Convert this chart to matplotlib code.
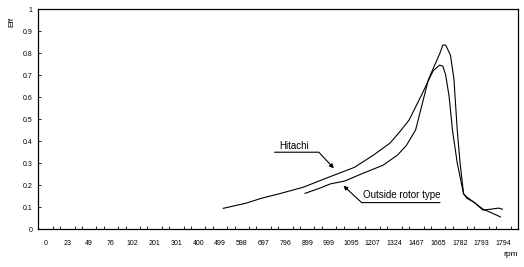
import matplotlib
matplotlib.use("Agg")
import matplotlib.pyplot as plt
import numpy as np

plt.rcParams['font.family'] = ['Liberation Sans', 'DejaVu Sans']

# category axis labels (rpm)
rpm_labels = ["0", "23", "49", "76", "102", "201", "301", "400", "499", "598", "697",
              "796", "899", "999", "1095", "1207", "1324", "1467", "1665", "1782", "1793", "1794"]
y_ticks = [0, 0.1, 0.2, 0.3, 0.4, 0.5, 0.6, 0.7, 0.8, 0.9, 1]
y_tick_labels = ["0", "0.1", "0.2", "0.3", "0.4", "0.5", "0.6", "0.7", "0.8", "0.9", "1"]

# Hitachi efficiency (x = position on category axis)
hitachi_x = [8.15, 9.18, 9.91, 10.79, 11.82, 13.0, 14.16, 15.04, 15.79, 16.23, 16.67, 17.25,
             17.63, 17.78, 18.07, 18.22, 18.35, 18.51, 18.66, 18.88, 19.17, 19.32, 19.67,
             20.06, 20.42, 20.78, 20.95]
hitachi_eff = [0.094, 0.117, 0.14, 0.162, 0.19, 0.236, 0.28, 0.336, 0.39, 0.44, 0.495, 0.61,
               0.69, 0.72, 0.745, 0.74, 0.70, 0.60, 0.45, 0.30, 0.16, 0.14, 0.12,
               0.086, 0.09, 0.095, 0.09]

# Outside rotor type efficiency
outside_x = [11.90, 12.56, 13.06, 13.72, 14.60, 15.48, 16.14, 16.55, 16.97, 17.56, 17.78,
             18.09, 18.22, 18.35, 18.57, 18.73, 18.88, 19.01, 19.17, 19.32, 19.67, 20.06,
             20.42, 20.86]
outside_eff = [0.162, 0.185, 0.205, 0.218, 0.255, 0.29, 0.336, 0.38, 0.45, 0.68, 0.73,
               0.80, 0.836, 0.836, 0.79, 0.68, 0.45, 0.30, 0.16, 0.145, 0.12, 0.09,
               0.075, 0.055]

fig = plt.figure(figsize=(5.24, 2.67), dpi=100)
ax = fig.add_axes([38.3 / 524, 1 - 229 / 267, (518 - 38.3) / 524, (229 - 9) / 267])

ax.plot(hitachi_x, hitachi_eff, color='black', lw=0.8)
ax.plot(outside_x, outside_eff, color='black', lw=0.8)

ax.set_xlim(-0.15, 21.13)
ax.set_ylim(0, 1)

ax.set_xticks(np.arange(len(rpm_labels)))
ax.set_xticklabels(rpm_labels, fontsize=5)
ax.set_xticks(np.arange(-1 / 3, len(rpm_labels), 1 / 3), minor=True)
ax.tick_params(axis='x', which='major', length=0, pad=8)
ax.tick_params(axis='x', which='minor', direction='in', length=2, width=0.6)

ax.set_yticks(y_ticks)
ax.set_yticklabels(y_tick_labels, fontsize=5)
ax.tick_params(axis='y', which='major', direction='in', length=2.5, width=0.6, pad=4)

for s in ax.spines.values():
    s.set_linewidth(0.9)

fig.text(11.7 / 524, 1 - 22 / 267, "Eff", rotation=90, fontsize=6, ha='center', va='center')
fig.text(511 / 524, 1 - 254 / 267, "rpm", fontsize=6, ha='center', va='center')

# annotations
ax.text(11.38, 0.377, "Hitachi", fontsize=7, ha='center', va='center')
ax.annotate("", xy=(13.22, 0.276), xytext=(10.5, 0.349),
            arrowprops=dict(arrowstyle='-|>', lw=0.8, color='black', mutation_scale=6,
                            shrinkA=0, shrinkB=0,
                            connectionstyle="angle,angleA=0,angleB=133,rad=0"))
ax.text(16.32, 0.155, "Outside rotor type", fontsize=7, ha='center', va='center')
ax.annotate("", xy=(13.66, 0.197), xytext=(18.09, 0.12),
            arrowprops=dict(arrowstyle='-|>', lw=0.8, color='black', mutation_scale=6,
                            shrinkA=0, shrinkB=0,
                            connectionstyle="angle,angleA=180,angleB=137,rad=0"))

fig.savefig("out.png", dpi=100)
